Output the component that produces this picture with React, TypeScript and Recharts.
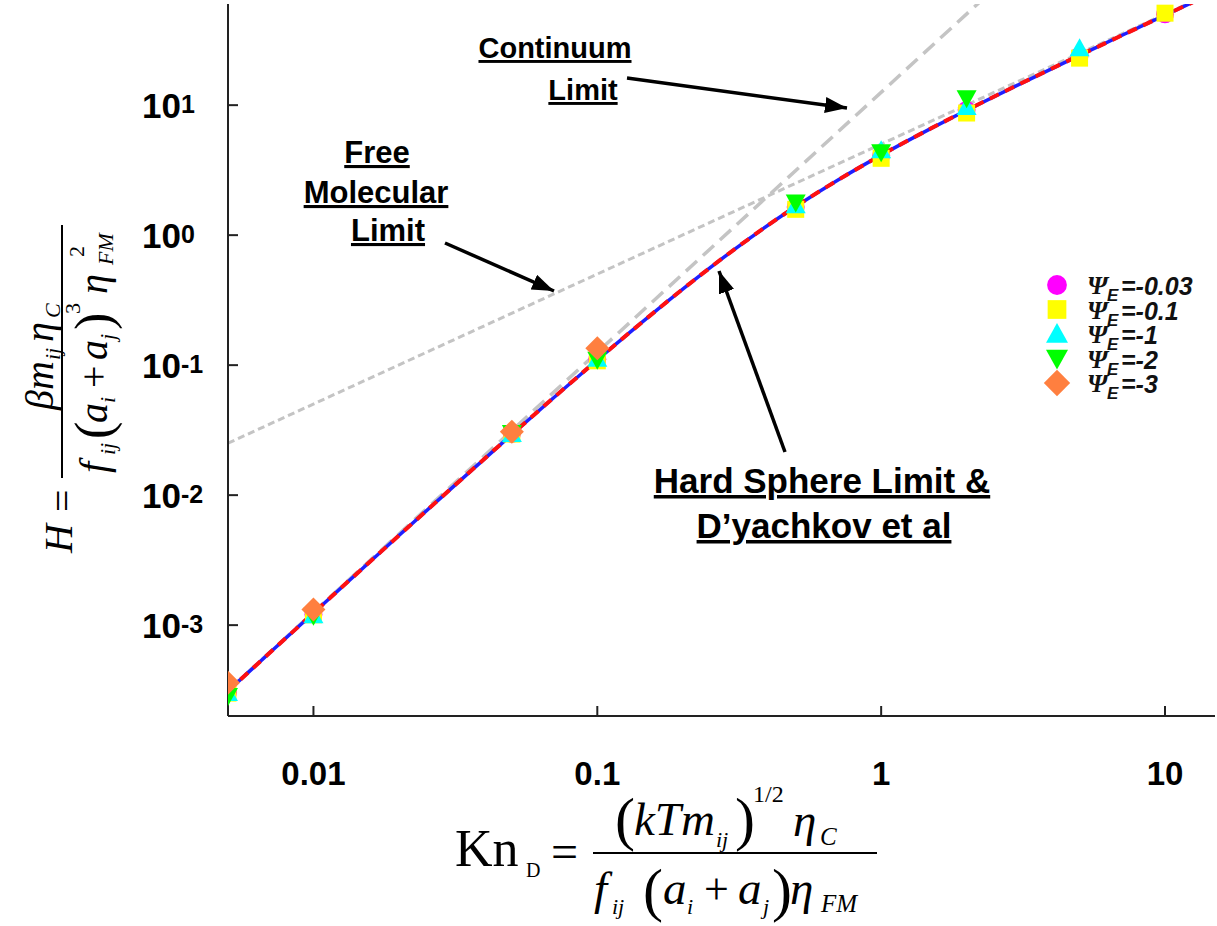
import React from "react";
import { ComposedChart, Legend, Line, Scatter, XAxis, YAxis } from "recharts";

// model curves (hard sphere limit / D'yachkov et al)
const knCurve = [0.005, 0.007, 0.01, 0.02, 0.03, 0.05, 0.07, 0.1, 0.15, 0.2, 0.3, 0.5, 0.7, 1, 1.5, 2, 3, 5, 7, 10, 13];
const hardSphereH = [3.12e-4, 6.1e-4, 1.24e-3, 4.89e-3, 1.084e-2, 2.93e-2, 5.59e-2, 0.1096, 0.2309, 0.3845, 0.7607, 1.66, 2.633, 4.127, 6.632, 9.137, 14.15, 24.17, 34.19, 49.22, 64.26];
const dyachkovH = [3.12e-4, 6.1e-4, 1.24e-3, 4.89e-3, 1.084e-2, 2.93e-2, 5.59e-2, 0.1096, 0.2309, 0.3845, 0.7607, 1.66, 2.633, 4.127, 6.632, 9.137, 14.15, 24.17, 34.19, 49.22, 64.26];

// limiting lines
const continuumKn = [0.005, 3];
const continuumH = [3.14e-4, 113];
const freeMolKn = [0.005, 15];
const freeMolH = [0.0251, 75.2];

// simulation points
const knMarks = [0.005, 0.01, 0.05, 0.1, 0.5, 1, 2, 5, 10];
const psi003H = [3.05e-4, 1.21e-3, 0.0296, 0.111, 1.65, 4.1, 9.2, 24, 50];
const psi01H = [3.0e-4, 1.2e-3, 0.0295, 0.108, 1.58, 3.9, 8.7, 23, 51];
const psi1H = [3.0e-4, 1.19e-3, 0.0295, 0.112, 1.7, 4.5, 9.7, 27.4];
const psi2H = [2.85e-4, 1.18e-3, 0.03, 0.11, 1.78, 4.35, 11.3];
const psi3H = [3.6e-4, 1.32e-3, 0.0308, 0.135];

const psiLabels = ["-0.03", "-0.1", "-1", "-2", "-3"];
const psiColors = ["#ff00ff", "#ffff00", "#00ffff", "#00ff00", "#ff7f3f"];
const psiShapes = ["circle", "square", "triangle", "down", "diamond"];

const xTicks = [0.01, 0.1, 1, 10];
const xTickLabels = ["0.01", "0.1", "1", "10"];
const yTicks = [1e-3, 1e-2, 1e-1, 1, 10];
const yTickExps = ["-3", "-2", "-1", "0", "1"];

const pts = (xs: number[], ys: number[]) => ys.map((h, i) => ({ kn: xs[i], h }));

const psiSeries = [psi003H, psi01H, psi1H, psi2H, psi3H].map((ys, i) => ({
  name: psiLabels[i],
  color: psiColors[i],
  shape: psiShapes[i],
  data: pts(knMarks, ys),
}));

const SANS = "'Liberation Sans', Arial, sans-serif";
const SERIF = "'Liberation Serif', 'Times New Roman', serif";

function Marker({ cx, cy, kind, color, s = 1 }: any) {
  if (cx == null || cy == null) return null;
  switch (kind) {
    case "circle":
      return <circle cx={cx} cy={cy} r={9 * s} fill={color} />;
    case "square":
      return <rect x={cx - 8.5 * s} y={cy - 8.5 * s} width={17 * s} height={17 * s} fill={color} />;
    case "triangle":
      return <polygon points={`${cx},${cy - 10 * s} ${cx + 10 * s},${cy + 8 * s} ${cx - 10 * s},${cy + 8 * s}`} fill={color} />;
    case "down":
      return <polygon points={`${cx - 10 * s},${cy - 8 * s} ${cx + 10 * s},${cy - 8 * s} ${cx},${cy + 10 * s}`} fill={color} />;
    default:
      return <polygon points={`${cx},${cy - 12 * s} ${cx + 12 * s},${cy} ${cx},${cy + 12 * s} ${cx - 12 * s},${cy}`} fill={color} />;
  }
}

function XTick({ x, y, payload }: any) {
  const i = xTicks.indexOf(payload.value);
  return (
    <g>
      <line x1={x} x2={x} y1={y} y2={y - 10} stroke="#222" strokeWidth={2} />
      <text x={x} y={y + 69} textAnchor="middle" fontFamily={SANS} fontWeight="bold" fontSize={33} fill="#000">
        {xTickLabels[i]}
      </text>
    </g>
  );
}

function YTick({ x, y, payload }: any) {
  const i = yTicks.indexOf(payload.value);
  return (
    <g>
      <line x1={x} x2={x + 10} y1={y} y2={y} stroke="#222" strokeWidth={2} />
      <text x={x - 86} y={y + 13} fontFamily={SANS} fontWeight="bold" fontSize={35} fill="#000">
        10
        <tspan fontSize={25} dy={-5}>{yTickExps[i]}</tspan>
      </text>
    </g>
  );
}

function LegendBox() {
  return (
    <svg width={190} height={142}>
      {psiSeries.map((s, i) => {
        const cy = 15 + i * 24.5;
        return (
          <g key={s.name}>
            <Marker cx={27} cy={cy} kind={s.shape} color={s.color} s={1.1} />
            <text x={57} y={cy + 9} fontFamily={SERIF} fontStyle="italic" fontWeight="bold" fontSize={26} fill="#111">Ψ</text>
            <text x={77} y={cy + 16} fontFamily={SANS} fontStyle="italic" fontWeight="bold" fontSize={17} fill="#111">E</text>
            <text x={91} y={cy + 10} fontFamily={SANS} fontStyle="italic" fontWeight="bold" fontSize={25} fill="#111">
              ={s.name}
            </text>
          </g>
        );
      })}
    </svg>
  );
}

const noteStyle: React.CSSProperties = {
  fontFamily: SANS,
  fontWeight: "bold",
  textDecoration: "underline",
};

function Overlay() {
  return (
    <svg width={1217} height={926} style={{ position: "absolute", left: 0, top: 0, pointerEvents: "none" }}>
      <defs>
        <marker id="head" markerUnits="userSpaceOnUse" markerWidth={24} markerHeight={18} refX={22} refY={8} orient="auto">
          <path d="M0,0 L22,8 L0,16 z" fill="#000" />
        </marker>
      </defs>

      {/* annotations */}
      <g style={noteStyle} textAnchor="middle" fill="#000">
        <text x={555} y={58} fontSize={29}>Continuum</text>
        <text x={583} y={100} fontSize={29}>Limit</text>
        <text x={377} y={163} fontSize={31}>Free</text>
        <text x={376} y={203} fontSize={31}>Molecular</text>
        <text x={388} y={241} fontSize={31}>Limit</text>
        <text x={822} y={493} fontSize={35}>Hard Sphere Limit &amp;</text>
        <text x={824} y={538} fontSize={35}>D’yachkov et al</text>
      </g>
      <line x1={627} y1={78} x2={847} y2={108} stroke="#000" strokeWidth={3.5} markerEnd="url(#head)" />
      <line x1={445} y1={243} x2={554} y2={291} stroke="#000" strokeWidth={3.5} markerEnd="url(#head)" />
      <line x1={785} y1={452} x2={719} y2={271} stroke="#000" strokeWidth={3.5} markerEnd="url(#head)" />

      {/* y axis title: H = beta m_ij eta_C / (f_ij (a_i + a_j)^3 eta_FM^2) */}
      <g transform="translate(62,556) rotate(-90)" fontFamily={SERIF} fill="#000">
        <text x={3} y={10} fontSize={40} fontStyle="italic">H</text>
        <text x={44} y={14} fontSize={40}>=</text>
        <line x1={78} x2={331} y1={0} y2={0} stroke="#000" strokeWidth={2} />
        <text x={146} y={-9} fontSize={40} fontStyle="italic">βm</text>
        <text x={196} y={-2} fontSize={22} fontStyle="italic">ij</text>
        <text x={214} y={-9} fontSize={40} fontStyle="italic">η</text>
        <text x={238} y={-2} fontSize={22} fontStyle="italic">C</text>
        <text x={83} y={45} fontSize={40} fontStyle="italic">f</text>
        <text x={101} y={53} fontSize={22} fontStyle="italic">ij</text>
        <text x={117} y={49} fontSize={52}>(</text>
        <text x={133} y={45} fontSize={40} fontStyle="italic">a</text>
        <text x={153} y={53} fontSize={22} fontStyle="italic">i</text>
        <text x={168} y={45} fontSize={40}>+</text>
        <text x={196} y={45} fontSize={40} fontStyle="italic">a</text>
        <text x={216} y={53} fontSize={22} fontStyle="italic">j</text>
        <text x={226} y={49} fontSize={52}>)</text>
        <text x={242} y={18} fontSize={22}>3</text>
        <text x={262} y={45} fontSize={40} fontStyle="italic">η</text>
        <text x={299} y={22} fontSize={22}>2</text>
        <text x={291} y={51} fontSize={22} fontStyle="italic">FM</text>
      </g>

      {/* x axis title: Kn_D = (kT m_ij)^1/2 eta_C / (f_ij (a_i + a_j) eta_FM) */}
      <g fontFamily={SERIF} fill="#000">
        <text x={455} y={866} fontSize={52}>Kn</text>
        <text x={526} y={877} fontSize={20}>D</text>
        <text x={551} y={868} fontSize={48}>=</text>
        <line x1={593} x2={877} y1={853} y2={853} stroke="#000" strokeWidth={2} />
        <text x={615} y={839} fontSize={60}>(</text>
        <text x={634} y={835} fontSize={47} fontStyle="italic">kTm</text>
        <text x={716} y={847} fontSize={22} fontStyle="italic">ij</text>
        <text x={735} y={839} fontSize={60}>)</text>
        <text x={753} y={802} fontSize={24}>1/2</text>
        <text x={793} y={836} fontSize={47} fontStyle="italic">η</text>
        <text x={820} y={845} fontSize={25} fontStyle="italic">C</text>
        <text x={594} y={904} fontSize={47} fontStyle="italic">f</text>
        <text x={612} y={914} fontSize={22} fontStyle="italic">ij</text>
        <text x={643} y={910} fontSize={60}>(</text>
        <text x={663} y={904} fontSize={47} fontStyle="italic">a</text>
        <text x={687} y={914} fontSize={22} fontStyle="italic">i</text>
        <text x={704} y={904} fontSize={44}>+</text>
        <text x={738} y={904} fontSize={47} fontStyle="italic">a</text>
        <text x={763} y={914} fontSize={22} fontStyle="italic">j</text>
        <text x={772} y={910} fontSize={60}>)</text>
        <text x={790} y={904} fontSize={47} fontStyle="italic">η</text>
        <text x={821} y={912} fontSize={25} fontStyle="italic">FM</text>
      </g>
    </svg>
  );
}

export default function App() {
  return (
    <div style={{ position: "absolute", left: 0, top: 0, width: 1217, height: 926, background: "#fff" }}>
      <ComposedChart width={1217} height={926} margin={{ top: 4, right: 2, left: 128, bottom: 150 }}>
        <XAxis
          dataKey="kn"
          type="number"
          scale="log"
          domain={[0.005, 15]}
          allowDataOverflow
          ticks={xTicks}
          tick={<XTick />}
          tickLine={false}
          tickSize={0}
          tickMargin={0}
          height={60}
          axisLine={{ stroke: "#222", strokeWidth: 2 }}
        />
        <XAxis xAxisId="top" orientation="top" type="number" scale="log" domain={[0.005, 15]} allowDataOverflow
          tick={false} tickLine={false} height={0} axisLine={{ stroke: "#222", strokeWidth: 2 }} />
        <YAxis
          dataKey="h"
          type="number"
          scale="log"
          domain={[2e-4, 60]}
          allowDataOverflow
          ticks={yTicks}
          tick={<YTick />}
          tickLine={false}
          tickSize={0}
          tickMargin={0}
          width={100}
          axisLine={{ stroke: "#222", strokeWidth: 2 }}
        />
        <YAxis yAxisId="right" orientation="right" type="number" scale="log" domain={[2e-4, 60]} allowDataOverflow
          tick={false} tickLine={false} width={0} axisLine={{ stroke: "#222", strokeWidth: 2 }} />

        <Line data={pts(continuumKn, continuumH)} dataKey="h" type="linear" stroke="#c4c4c4" strokeWidth={3.5}
          strokeDasharray="15 8" dot={false} isAnimationActive={false} legendType="none" />
        <Line data={pts(freeMolKn, freeMolH)} dataKey="h" type="linear" stroke="#c4c4c4" strokeWidth={3}
          strokeDasharray="7 4" dot={false} isAnimationActive={false} legendType="none" />
        <Line data={pts(knCurve, dyachkovH)} dataKey="h" type="monotone" stroke="#1f1fff" strokeWidth={3.5}
          dot={false} isAnimationActive={false} legendType="none" />
        <Line data={pts(knCurve, hardSphereH)} dataKey="h" type="monotone" stroke="#ff1010" strokeWidth={4}
          strokeDasharray="10 7" dot={false} isAnimationActive={false} legendType="none" />

        {psiSeries.map((s) => (
          <Scatter
            key={s.name}
            name={s.name}
            data={s.data}
            dataKey="h"
            fill={s.color}
            isAnimationActive={false}
            shape={(p: any) => <Marker cx={p.cx} cy={p.cy} kind={s.shape} color={s.color} />}
          />
        ))}

        <Legend
          layout="horizontal"
          verticalAlign="middle"
          align="center"
          content={() => <LegendBox />}
          wrapperStyle={{ position: "absolute", left: 1030, top: 270, width: 190, height: 142 }}
        />
      </ComposedChart>
      <Overlay />
    </div>
  );
}
